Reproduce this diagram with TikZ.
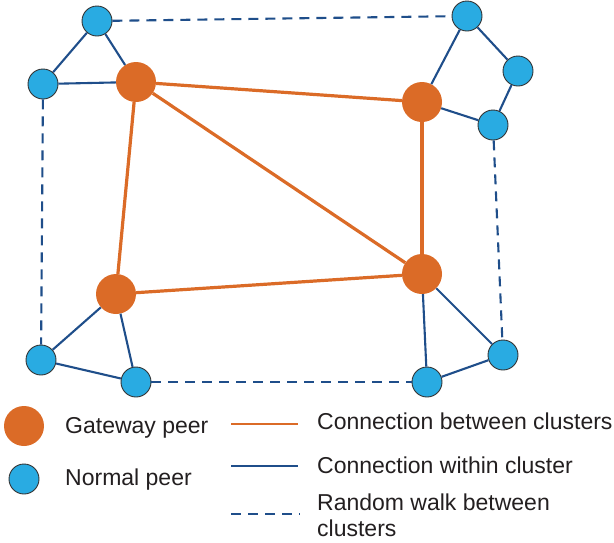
\documentclass[tikz,border=0pt]{standalone}
\usepackage{fontspec}
\setmainfont{Liberation Sans}
\definecolor{gw}{HTML}{DB6B27}
\definecolor{np}{HTML}{29ABE2}
\definecolor{ln}{HTML}{1F4E8A}
\definecolor{rim}{HTML}{333333}
\definecolor{txt}{HTML}{231F20}
\begin{document}
\begin{tikzpicture}[x=1pt,y=-1pt,
  gateway/.style={circle,fill=gw,draw=none,minimum size=40pt,inner sep=0pt},
  normal/.style={circle,fill=np,draw=rim,line width=0.9pt,minimum size=30pt,inner sep=0pt},
  inter/.style={draw=gw,line width=3.2pt},
  intra/.style={draw=ln,line width=2.1pt},
  walk/.style={draw=ln,line width=2.1pt,dash pattern=on 10pt off 7pt},
  lbl/.style={anchor=base west,inner sep=0pt,font=\fontsize{23}{26}\selectfont,text=txt}
]
\useasboundingbox (0,0) rectangle (614,542);
% gateways
\node[gateway] (g1) at (136,82) {};
\node[gateway] (g2) at (422,102) {};
\node[gateway] (g3) at (116,294) {};
\node[gateway] (g4) at (422,274) {};
% normals
\node[normal] (n1) at (97,21) {};
\node[normal] (n2) at (43,84) {};
\node[normal] (n3) at (467,16) {};
\node[normal] (n4) at (518,71) {};
\node[normal] (n5) at (493,125) {};
\node[normal] (n6) at (41,360) {};
\node[normal] (n7) at (136,382) {};
\node[normal] (n8) at (427,382) {};
\node[normal] (n9) at (503,355) {};
% inter-cluster
\path[inter] (g1) -- (g2);
\path[inter] (g1) -- (g3);
\path[inter] (g1) -- (g4);
\path[inter] (g2) -- (g4);
\path[inter] (g3) -- (g4);
% intra-cluster
\path[intra] (n1) -- (n2);
\path[intra] (n1) -- (g1);
\path[intra] (n2) -- (g1);
\path[intra] (n3) -- (g2);
\path[intra] (n3) -- (n4);
\path[intra] (n4) -- (n5);
\path[intra] (n5) -- (g2);
\path[intra] (g3) -- (n6);
\path[intra] (g3) -- (n7);
\path[intra] (n6) -- (n7);
\path[intra] (g4) -- (n8);
\path[intra] (g4) -- (n9);
\path[intra] (n8) -- (n9);
% random walks
\path[walk] (n1) -- (n3);
\path[walk] (n2) -- (n6);
\path[walk] (n5) -- (n9);
\path[walk] (n7) -- (n8);
% legend
\node[gateway] (lg) at (24,426) {};
\node[normal] (ln) at (24,479) {};
\node[lbl] (tg) at (65,433) {Gateway peer};
\node[lbl] (tn) at (65,485) {Normal peer};
\coordinate (a1) at (231,424);
\coordinate (a2) at (298,424);
\coordinate (b1) at (231,466);
\coordinate (b2) at (298,466);
\coordinate (c1) at (231,514);
\coordinate (c2) at (300,514);
\path[inter,line width=2.8pt] (a1) -- (a2);
\path[draw=ln,line width=1.8pt] (b1) -- (b2);
\path[walk,line width=1.8pt] (c1) -- (c2);
\node[lbl] (t1) at (317,429) {Connection between clusters};
\node[lbl] (t2) at (317,473) {Connection within cluster};
\node[lbl] (t3) at (317,510) {Random walk between};
\node[lbl] (t4) at (317,536) {clusters};
\end{tikzpicture}
\end{document}
